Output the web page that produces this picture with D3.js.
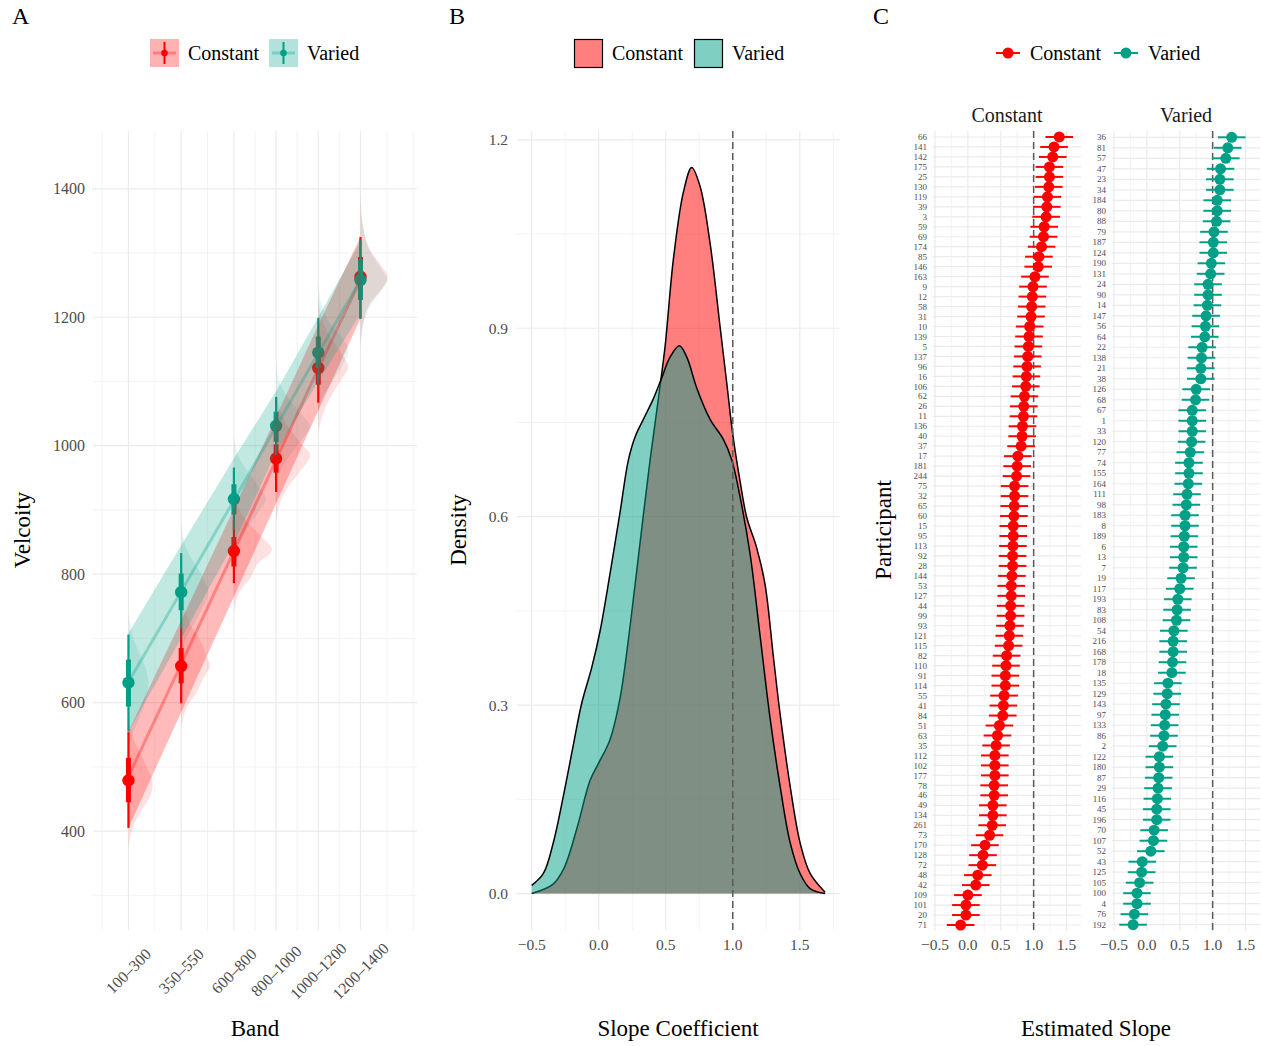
<!DOCTYPE html>
<html>
<head>
<meta charset="utf-8">
<script src="https://cdn.jsdelivr.net/npm/d3@7"></script>
<style>
  body { margin: 0; background: #fff; }
  text { font-family: "Liberation Serif", "Times New Roman", serif; }
</style>
</head>
<body>
<script>
// ---------- data ----------
// panel A: band predictions
var bands = ["100–300", "350–550", "600–800", "800–1000", "1000–1200", "1200–1400"];
var bandStart = [100, 350, 600, 800, 1000, 1200];

var constPoint   = [479, 657, 836, 980, 1121, 1263];
var constThickLo = [445, 630, 812, 958, 1095, 1243];
var constThickHi = [514, 685, 858, 1002, 1145, 1294];
var constThinLo  = [405, 599, 786, 928, 1067, 1198];
var constThinHi  = [554, 716, 885, 1030, 1170, 1325];
var constFit     = [485, 660, 836, 978, 1120, 1258];
var constRibLo   = [405, 585, 765, 910, 1055, 1198];
var constRibHi   = [555, 728, 902, 1045, 1188, 1325];

var variedPoint   = [631, 772, 917, 1031, 1145, 1258];
var variedThickLo = [594, 744, 893, 1006, 1121, 1227];
var variedThickHi = [667, 801, 940, 1053, 1170, 1290];
var variedThinLo  = [555, 716, 870, 985, 1095, 1198];
var variedThinHi  = [706, 833, 966, 1076, 1199, 1320];
var variedFit     = [632, 773, 915, 1030, 1144, 1258];
var variedRibLo   = [555, 700, 848, 990, 1100, 1205];
var variedRibHi   = [708, 845, 980, 1085, 1200, 1318];

// slab densities [velocity, relative density], one per band
var constSlabs = [
  [[370,0],[400,0.08],[430,0.3],[455,0.55],[478,0.6],[500,0.45],[520,0.3],[545,0.12],[575,0]],
  [[560,0],[590,0.12],[615,0.38],[637,0.55],[657,0.72],[675,0.62],[700,0.45],[725,0.2],[760,0]],
  [[740,0],[770,0.12],[795,0.42],[815,0.58],[838,0.95],[858,0.7],[880,0.35],[905,0.1],[935,0]],
  [[880,0],[915,0.12],[940,0.35],[962,0.62],[985,0.85],[1005,0.6],[1030,0.3],[1060,0.08],[1090,0]],
  [[1020,0],[1050,0.12],[1080,0.35],[1105,0.6],[1122,0.75],[1140,0.62],[1165,0.35],[1195,0.1],[1230,0]],
  [[1150,0],[1190,0.06],[1220,0.22],[1245,0.55],[1263,0.68],[1282,0.5],[1310,0.2],[1350,0.05],[1400,0]]
];
var variedSlabs = [
  [[520,0],[550,0.1],[580,0.3],[608,0.45],[631,0.5],[655,0.42],[680,0.25],[705,0.1],[740,0]],
  [[670,0],[700,0.12],[725,0.35],[750,0.55],[772,0.68],[795,0.55],[820,0.3],[845,0.1],[880,0]],
  [[820,0],[850,0.12],[875,0.38],[897,0.62],[917,0.8],[937,0.62],[960,0.35],[985,0.1],[1015,0]],
  [[930,0],[960,0.1],[985,0.35],[1010,0.65],[1030,0.85],[1050,0.62],[1075,0.3],[1100,0.08],[1135,0]],
  [[1040,0],[1075,0.1],[1100,0.35],[1125,0.6],[1148,0.75],[1168,0.6],[1190,0.3],[1220,0.08],[1255,0]],
  [[1150,0],[1185,0.06],[1215,0.22],[1240,0.5],[1258,0.66],[1278,0.5],[1305,0.22],[1345,0.05],[1395,0]]
];

// panel B: density of slope coefficients [slope, density]
var constDensity = [[-0.50,0.0],[-0.34,0.015],[-0.26,0.04],[-0.16,0.106],[-0.065,0.18],[0.0,0.208],
  [0.084,0.245],[0.159,0.311],[0.234,0.426],[0.308,0.558],[0.383,0.69],[0.445,0.788],[0.495,0.871],
  [0.557,1.01],[0.632,1.117],[0.694,1.156],[0.756,1.126],[0.831,1.035],[0.905,0.903],[0.955,0.813],
  [1.0,0.731],[1.054,0.657],[1.104,0.599],[1.179,0.55],[1.241,0.492],[1.303,0.377],[1.353,0.286],
  [1.428,0.171],[1.502,0.081],[1.577,0.032],[1.689,0.002]];
var variedDensity = [[-0.50,0.013],[-0.413,0.032],[-0.339,0.081],[-0.264,0.155],[-0.189,0.237],
  [-0.127,0.303],[-0.052,0.36],[0.010,0.418],[0.084,0.509],[0.159,0.607],[0.221,0.69],[0.271,0.727],
  [0.333,0.755],[0.408,0.788],[0.470,0.821],[0.532,0.854],[0.602,0.872],[0.657,0.854],[0.731,0.805],
  [0.831,0.755],[0.930,0.723],[0.993,0.69],[1.054,0.632],[1.129,0.541],[1.204,0.41],[1.279,0.278],
  [1.353,0.171],[1.428,0.081],[1.502,0.032],[1.577,0.008],[1.689,0.0]];

// panel C: participant slopes
var constIds = ["66","141","142","175","25","130","119","39","3","59","69","174","85","146","163","9","12","58",
  "31","10","139","5","137","96","16","106","62","26","11","136","40","37","17","181","244","75","32","65","60",
  "15","95","113","92","28","144","53","127","44","99","93","121","115","82","110","91","114","55","41","84",
  "51","63","35","112","102","177","78","46","49","134","261","73","170","128","72","48","42","109","101","20","71"];
var constEst = [1.39,1.31,1.29,1.24,1.24,1.23,1.21,1.20,1.19,1.16,1.15,1.12,1.08,1.07,1.02,0.99,0.98,0.97,
  0.96,0.94,0.93,0.92,0.91,0.90,0.89,0.88,0.86,0.85,0.845,0.83,0.825,0.81,0.76,0.75,0.74,0.71,0.71,0.705,0.70,
  0.69,0.69,0.685,0.68,0.68,0.67,0.66,0.66,0.65,0.65,0.64,0.63,0.62,0.59,0.58,0.57,0.57,0.55,0.54,0.53,
  0.48,0.45,0.43,0.41,0.41,0.41,0.40,0.40,0.38,0.38,0.37,0.33,0.26,0.23,0.22,0.15,0.12,0.0,-0.03,-0.03,-0.11];
var variedIds = ["36","81","57","47","23","34","184","80","88","79","187","124","190","131","24","90","14","147",
  "56","64","22","138","21","38","126","68","67","1","33","120","77","74","155","164","111","98","183","8","189",
  "6","13","7","19","117","193","83","108","54","216","168","178","18","135","129","143","97","133","86","2",
  "122","180","87","29","116","45","196","70","107","52","43","125","105","100","4","76","192"];
var variedEst = [1.29,1.23,1.20,1.12,1.11,1.11,1.07,1.07,1.06,1.02,1.01,1.01,0.98,0.97,0.93,0.93,0.92,0.90,
  0.89,0.88,0.84,0.83,0.82,0.82,0.75,0.74,0.69,0.69,0.69,0.68,0.66,0.64,0.64,0.63,0.61,0.60,0.58,0.58,0.57,
  0.56,0.56,0.55,0.52,0.50,0.47,0.46,0.45,0.41,0.40,0.40,0.39,0.38,0.32,0.31,0.29,0.28,0.27,0.26,0.24,
  0.19,0.19,0.18,0.17,0.16,0.15,0.15,0.11,0.10,0.06,-0.07,-0.08,-0.11,-0.15,-0.15,-0.19,-0.21];
var ciHalfWidth = 0.21;

var red = "#FF0000", teal = "#00A087";
var grid = "#EBEBEB", tickCol = "#4D4D4D";

// ---------- svg ----------
var svg = d3.select("body").append("svg")
    .attr("width", 1262)
    .attr("height", 1046);

function txt(x, y, s, size, anchor, col) {
  return svg.append("text").attr("x", x).attr("y", y).attr("dy", "0.35em")
    .attr("font-size", size).attr("text-anchor", anchor || "start")
    .attr("fill", col || "#000").text(s);
}

// panel letters
txt(12, 16, "A", 24);
txt(449, 16, "B", 24);
txt(873, 16, "C", 24);

// ====================== panel A ======================
var xA = d3.scaleLinear().domain([-68, 1468]).range([93, 417]);
var yA = d3.scaleLinear().domain([246, 1490]).range([930, 131]);
var gA = svg.append("g");

var minorXA = [-25, 225, 475, 700, 900, 1100, 1325, 1450];
gA.selectAll(".mxa").data(minorXA).enter().append("line")
  .attr("x1", d => xA(d)).attr("x2", d => xA(d)).attr("y1", 131).attr("y2", 930)
  .attr("stroke", grid).attr("stroke-width", 0.6);
gA.selectAll(".mya").data([300, 500, 700, 900, 1100, 1300]).enter().append("line")
  .attr("x1", 93).attr("x2", 417).attr("y1", d => yA(d)).attr("y2", d => yA(d))
  .attr("stroke", grid).attr("stroke-width", 0.6);
gA.selectAll(".gxa").data(bandStart).enter().append("line")
  .attr("x1", d => xA(d)).attr("x2", d => xA(d)).attr("y1", 131).attr("y2", 930)
  .attr("stroke", grid).attr("stroke-width", 1.2);
gA.selectAll(".gya").data([400, 600, 800, 1000, 1200, 1400]).enter().append("line")
  .attr("x1", 93).attr("x2", 417).attr("y1", d => yA(d)).attr("y2", d => yA(d))
  .attr("stroke", grid).attr("stroke-width", 1.2);

// y tick labels
gA.selectAll(".yta").data([400, 600, 800, 1000, 1200, 1400]).enter().append("text")
  .attr("x", 85).attr("y", d => yA(d)).attr("dy", "0.35em").attr("text-anchor", "end")
  .attr("font-size", 16).attr("fill", tickCol).text(d => d);
// x tick labels, rotated
gA.selectAll(".xta").data(bands).enter().append("text")
  .attr("transform", (d, i) => "translate(" + xA(bandStart[i]) + ",971) rotate(-45)")
  .attr("dy", "0.35em").attr("text-anchor", "middle")
  .attr("font-size", 16).attr("fill", tickCol).text(d => d);

txt(255, 1028, "Band", 23, "middle");
svg.append("text").attr("transform", "translate(22,530) rotate(-90)").attr("dy", "0.35em")
  .attr("text-anchor", "middle").attr("font-size", 23).text("Velcoity");

function drawIntervals(col, point, thinLo, thinHi, thickLo, thickHi) {
  bandStart.forEach(function(b, i) {
    gA.append("line").attr("x1", xA(b)).attr("x2", xA(b))
      .attr("y1", yA(thinLo[i])).attr("y2", yA(thinHi[i]))
      .attr("stroke", col).attr("stroke-width", 2.2);
    gA.append("line").attr("x1", xA(b)).attr("x2", xA(b))
      .attr("y1", yA(thickLo[i])).attr("y2", yA(thickHi[i]))
      .attr("stroke", col).attr("stroke-width", 5);
    gA.append("circle").attr("cx", xA(b)).attr("cy", yA(point[i])).attr("r", 6.2).attr("fill", col);
  });
}
drawIntervals(red, constPoint, constThinLo, constThinHi, constThickLo, constThickHi);
drawIntervals(teal, variedPoint, variedThinLo, variedThinHi, variedThickLo, variedThickHi);

var slabW = d3.scaleLinear().domain([0, 1]).range([0, 40]);
function drawSlabs(col, slabs) {
  slabs.forEach(function(s, i) {
    var x0 = xA(bandStart[i]);
    var area = d3.area()
      .y(d => yA(d[0]))
      .x0(x0)
      .x1(d => x0 + slabW(d[1]))
      .curve(d3.curveCatmullRom);
    gA.append("path").datum(s).attr("d", area)
      .attr("fill", col).attr("fill-opacity", 0.12);
  });
}
drawSlabs(red, constSlabs);
drawSlabs(teal, variedSlabs);

function drawRibbon(col, lo, hi, fit, op) {
  var pts = bandStart.map((b, i) => [b, lo[i], hi[i], fit[i]]);
  gA.append("path").datum(pts)
    .attr("d", d3.area().x(d => xA(d[0])).y0(d => yA(d[1])).y1(d => yA(d[2])))
    .attr("fill", col).attr("fill-opacity", op);
  gA.append("path").datum(pts)
    .attr("d", d3.line().x(d => xA(d[0])).y(d => yA(d[3])))
    .attr("fill", "none").attr("stroke", col).attr("stroke-opacity", 0.3).attr("stroke-width", 3);
}
drawRibbon(red, constRibLo, constRibHi, constFit, 0.27);
drawRibbon(teal, variedRibLo, variedRibHi, variedFit, 0.24);

// legend A
function legA(x, col, label) {
  svg.append("rect").attr("x", x).attr("y", 39).attr("width", 29).attr("height", 28)
    .attr("fill", col).attr("fill-opacity", 0.3);
  svg.append("line").attr("x1", x + 3).attr("x2", x + 26).attr("y1", 53).attr("y2", 53)
    .attr("stroke", col).attr("stroke-opacity", 0.3).attr("stroke-width", 3);
  svg.append("line").attr("x1", x + 14.5).attr("x2", x + 14.5).attr("y1", 42).attr("y2", 64)
    .attr("stroke", col).attr("stroke-width", 2);
  svg.append("circle").attr("cx", x + 14.5).attr("cy", 53).attr("r", 3.3).attr("fill", col);
  txt(x + 38, 53, label, 20);
}
legA(150, red, "Constant");
legA(269, teal, "Varied");

// ====================== panel B ======================
var xB = d3.scaleLinear().domain([-0.612, 1.80]).range([516.7, 840]);
var yB = d3.scaleLinear().domain([-0.058, 1.214]).range([930, 131]);
var gB = svg.append("g");

gB.selectAll(".mxb").data([-0.25, 0.25, 0.75, 1.25, 1.75]).enter().append("line")
  .attr("x1", d => xB(d)).attr("x2", d => xB(d)).attr("y1", 131).attr("y2", 930)
  .attr("stroke", grid).attr("stroke-width", 0.6);
gB.selectAll(".myb").data([0.15, 0.45, 0.75, 1.05]).enter().append("line")
  .attr("x1", 516.7).attr("x2", 840).attr("y1", d => yB(d)).attr("y2", d => yB(d))
  .attr("stroke", grid).attr("stroke-width", 0.6);
gB.selectAll(".gxb").data([-0.5, 0, 0.5, 1, 1.5]).enter().append("line")
  .attr("x1", d => xB(d)).attr("x2", d => xB(d)).attr("y1", 131).attr("y2", 930)
  .attr("stroke", grid).attr("stroke-width", 1.2);
gB.selectAll(".gyb").data([0, 0.3, 0.6, 0.9, 1.2]).enter().append("line")
  .attr("x1", 516.7).attr("x2", 840).attr("y1", d => yB(d)).attr("y2", d => yB(d))
  .attr("stroke", grid).attr("stroke-width", 1.2);

gB.selectAll(".ytb").data([0, 0.3, 0.6, 0.9, 1.2]).enter().append("text")
  .attr("x", 508).attr("y", d => yB(d)).attr("dy", "0.35em").attr("text-anchor", "end")
  .attr("font-size", 15.5).attr("fill", tickCol).text(d => d.toFixed(1));
gB.selectAll(".xtb").data([-0.5, 0, 0.5, 1, 1.5]).enter().append("text")
  .attr("x", d => xB(d)).attr("y", 945).attr("dy", "0.35em").attr("text-anchor", "middle")
  .attr("font-size", 15.5).attr("fill", tickCol).text(d => d3.format(".1f")(d).replace("-", "−"));

txt(678, 1028, "Slope Coefficient", 23, "middle");
svg.append("text").attr("transform", "translate(458,530) rotate(-90)").attr("dy", "0.35em")
  .attr("text-anchor", "middle").attr("font-size", 23).text("Density");

function drawDensity(col, dens) {
  gB.append("path").datum(dens)
    .attr("d", d3.area().x(d => xB(d[0])).y0(yB(0)).y1(d => yB(d[1])).curve(d3.curveCatmullRom))
    .attr("fill", col).attr("fill-opacity", 0.5);
  gB.append("path").datum(dens)
    .attr("d", d3.line().x(d => xB(d[0])).y(d => yB(d[1])).curve(d3.curveCatmullRom))
    .attr("fill", "none").attr("stroke", "#000").attr("stroke-width", 1.5);
}
drawDensity(red, constDensity);
drawDensity(teal, variedDensity);

gB.append("line").attr("x1", xB(1)).attr("x2", xB(1)).attr("y1", 131).attr("y2", 930)
  .attr("stroke", "#5a5a5a").attr("stroke-width", 1.5).attr("stroke-dasharray", "7,4");

// legend B
function legB(x, col, label) {
  svg.append("rect").attr("x", x + 0.5).attr("y", 39.5).attr("width", 28).attr("height", 28)
    .attr("fill", col).attr("fill-opacity", 0.5).attr("stroke", "#000").attr("stroke-width", 1.2);
  txt(x + 38, 53, label, 20);
}
legB(574, red, "Constant");
legB(694, teal, "Varied");

// ====================== panel C ======================
var gC = svg.append("g");
function facet(ids, est, col, left, right, title) {
  var x = d3.scaleLinear().domain([-0.53, 1.72]).range([left, right]);
  var y = d3.scalePoint().domain(ids).range([131, 931]).padding(0.6);
  var g = gC.append("g");
  g.selectAll(".mx").data([-0.25, 0.25, 0.75, 1.25]).enter().append("line")
    .attr("x1", d => x(d)).attr("x2", d => x(d)).attr("y1", 131).attr("y2", 931)
    .attr("stroke", grid).attr("stroke-width", 0.6);
  g.selectAll(".gx").data([-0.5, 0, 0.5, 1, 1.5]).enter().append("line")
    .attr("x1", d => x(d)).attr("x2", d => x(d)).attr("y1", 131).attr("y2", 931)
    .attr("stroke", grid).attr("stroke-width", 1.2);
  g.selectAll(".gy").data(ids).enter().append("line")
    .attr("x1", left).attr("x2", right).attr("y1", d => y(d)).attr("y2", d => y(d))
    .attr("stroke", grid).attr("stroke-width", 1.2);
  g.append("line").attr("x1", x(1)).attr("x2", x(1)).attr("y1", 131).attr("y2", 931)
    .attr("stroke", "#5a5a5a").attr("stroke-width", 1.5).attr("stroke-dasharray", "7,4");
  g.selectAll(".eb").data(ids).enter().append("line")
    .attr("x1", (d, i) => x(est[i] - ciHalfWidth)).attr("x2", (d, i) => x(est[i] + ciHalfWidth))
    .attr("y1", d => y(d)).attr("y2", d => y(d))
    .attr("stroke", col).attr("stroke-width", 2);
  g.selectAll(".pt").data(ids).enter().append("circle")
    .attr("cx", (d, i) => x(est[i])).attr("cy", d => y(d)).attr("r", 5.5).attr("fill", col);
  g.selectAll(".yl").data(ids).enter().append("text")
    .attr("x", left - 6).attr("y", d => y(d)).attr("dy", "0.35em").attr("text-anchor", "end")
    .attr("font-size", 9).attr("fill", tickCol).text(d => d);
  g.selectAll(".xl").data([-0.5, 0, 0.5, 1, 1.5]).enter().append("text")
    .attr("x", d => x(d)).attr("y", 945).attr("dy", "0.35em").attr("text-anchor", "middle")
    .attr("font-size", 15.5).attr("fill", tickCol).text(d => d3.format(".1f")(d).replace("-", "−"));
  txt((left + right) / 2, 115, title, 20, "middle", "#1a1a1a");
}
facet(constIds, constEst, red, 933, 1081, "Constant");
facet(variedIds, variedEst, teal, 1112, 1260, "Varied");

txt(1096, 1028, "Estimated Slope", 23, "middle");
svg.append("text").attr("transform", "translate(883,530) rotate(-90)").attr("dy", "0.35em")
  .attr("text-anchor", "middle").attr("font-size", 23).text("Participant");

// legend C
function legC(x, col, label) {
  svg.append("line").attr("x1", x).attr("x2", x + 24).attr("y1", 53).attr("y2", 53)
    .attr("stroke", col).attr("stroke-width", 2);
  svg.append("circle").attr("cx", x + 12).attr("cy", 53).attr("r", 5.5).attr("fill", col);
  txt(x + 34, 53, label, 20);
}
legC(996, red, "Constant");
legC(1114, teal, "Varied");
</script>
</body>
</html>
